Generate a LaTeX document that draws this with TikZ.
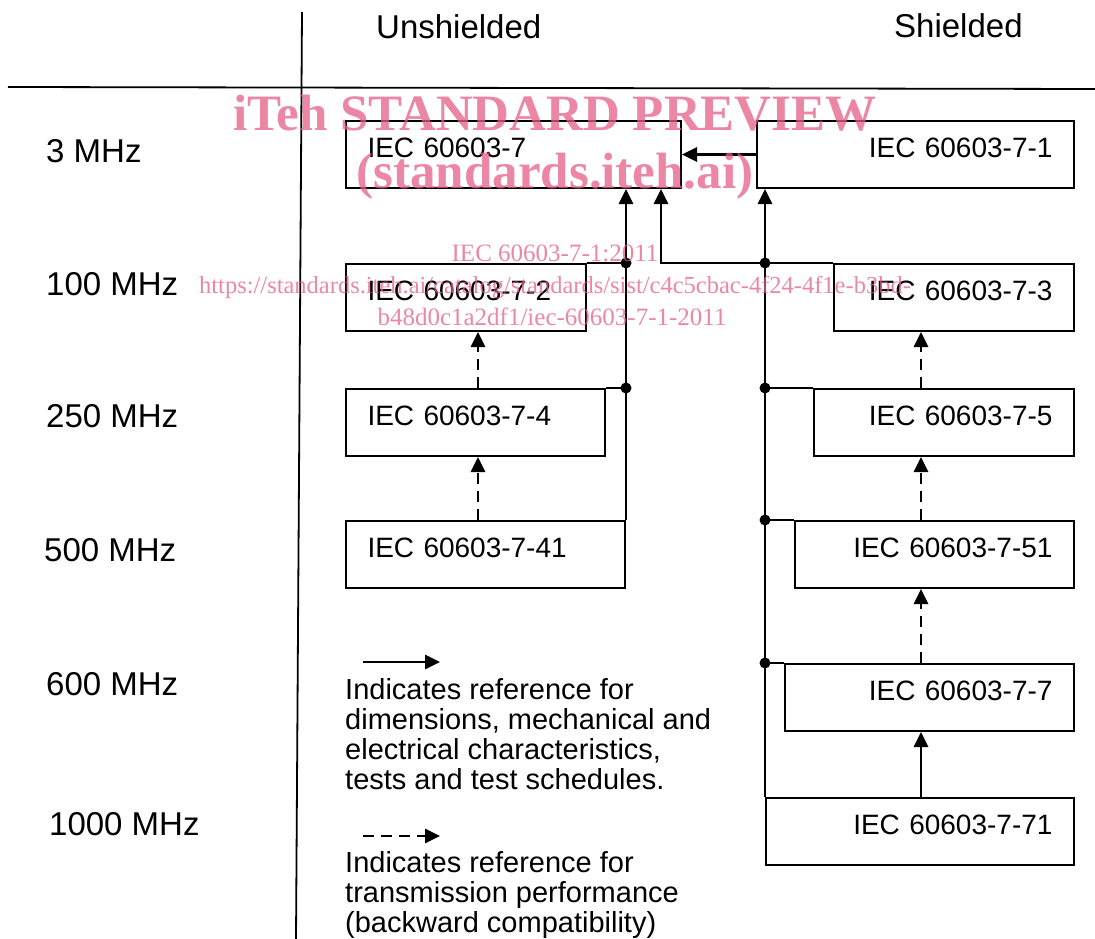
\documentclass[tikz,border=0pt]{standalone}
\usepackage{fontspec}
\setmainfont{Liberation Sans}
\newfontfamily\wmfont{Liberation Serif}
\usetikzlibrary{arrows.meta}
\definecolor{wmPink}{RGB}{230,94,135}

\begin{document}
\begin{tikzpicture}[
    x=1pt, y=-1pt,
    freqLabel/.style={font=\fontsize{33}{40}\selectfont, anchor=base west, inner sep=0pt},
    colHead/.style={font=\fontsize{33}{40}\selectfont, anchor=base west, inner sep=0pt},
    iecBox/.style={draw, line width=2pt, font=\fontsize{28}{34}\selectfont,
        inner xsep=21.5pt, inner ysep=0pt, minimum height=67pt,
        text height=20pt, text depth=14pt},
    leftBox/.style={iecBox, anchor=north west, align=left, text width=#1},
    rightBox/.style={iecBox, anchor=north east, align=right, text width=#1},
    refArrow/.style={line width=2.8pt, -{Triangle[length=15pt,width=14pt]}},
    perfArrow/.style={line width=2.8pt, dash pattern=on 11pt off 7pt, -{Triangle[length=15pt,width=14pt]}},
    branch/.style={line width=2.2pt},
    legendText/.style={font=\fontsize{29}{30}\selectfont, align=left, anchor=north west, inner sep=0pt},
    watermark/.style={text=wmPink, opacity=0.75, inner sep=0pt, anchor=base},
]
\useasboundingbox (0,0) rectangle (1095,939);

% table rules
\draw[line width=1.8pt] (302,12) -- (296,939);
\draw[line width=1.8pt] (8,87) -- (1095,89);

% column heads
\node[colHead] (hUnsh) at (376,39) {Unshielded};
\node[colHead] (hSh) at (894,38) {Shielded};

% frequency rows
\node[freqLabel] (f3) at (46,162) {3 MHz};
\node[freqLabel] (f100) at (46,295) {100 MHz};
\node[freqLabel] (f250) at (46,427) {250 MHz};
\node[freqLabel] (f500) at (44,561) {500 MHz};
\node[freqLabel] (f600) at (46,695) {600 MHz};
\node[freqLabel] (f1000) at (49,835) {1000 MHz};

% unshielded family
\node[leftBox=292pt] (iec7) at (345,120) {IEC 60603-7};
\node[leftBox=197pt] (iec72) at (345,263) {IEC 60603-7-2};
\node[leftBox=216pt] (iec74) at (345,388) {IEC 60603-7-4};
\node[leftBox=236pt] (iec741) at (345,520) {IEC 60603-7-41};

% shielded family
\node[rightBox=274pt] (iec71) at (1075,120) {IEC 60603-7-1};
\node[rightBox=197pt] (iec73) at (1075,263) {IEC 60603-7-3};
\node[rightBox=217pt] (iec75) at (1075,388) {IEC 60603-7-5};
\node[rightBox=236pt] (iec751) at (1075,520) {IEC 60603-7-51};
\node[rightBox=246pt] (iec77) at (1075,663) {IEC 60603-7-7};
\node[rightBox=265pt] (iec771) at (1075,797) {IEC 60603-7-71};

% reference lines, unshielded
\coordinate (jL2) at (iec741.north east |- iec72.north);
\coordinate (jL4) at (iec741.north east |- iec74.north);
\draw[refArrow] (iec741.north east) -- (iec741.north east |- iec7.south);
\draw[branch] (iec72.north east) -- (jL2);
\draw[branch] (iec74.north east) -- (jL4);
\fill (jL2) circle (5.5pt);
\fill (jL4) circle (5.5pt);

% reference lines, shielded
\coordinate (jR3) at (iec771.north west |- iec73.north);
\coordinate (jR5) at (iec771.north west |- iec75.north);
\coordinate (jR51) at (iec771.north west |- iec751.north);
\coordinate (jR7) at (iec771.north west |- iec77.north);
\coordinate (kink) at (661,263);
\draw[refArrow] (iec771.north west) -- (iec771.north west |- iec71.south);
\draw[refArrow] (iec73.north west) -- (kink) -- (kink |- iec7.south);
\draw[branch] (jR5) -- (iec75.north west);
\draw[branch] (jR51) -- (iec751.north west);
\draw[branch] (jR7) -- (iec77.north west);
\foreach \j in {jR3,jR5,jR51,jR7} \fill (\j) circle (5.5pt);
\draw[refArrow] (iec71.west) -- (iec7.east);

% transmission performance
\draw[perfArrow] ([xshift=133pt]iec74.north west) -- ([xshift=133pt]iec72.south west);
\draw[perfArrow] ([xshift=133pt]iec741.north west) -- ([xshift=133pt]iec74.south west);
\draw[perfArrow] ([xshift=-154pt]iec75.north east) -- ([xshift=-154pt]iec73.south east);
\draw[perfArrow] ([xshift=-154pt]iec751.north east) -- ([xshift=-154pt]iec75.south east);
\draw[perfArrow] ([xshift=-154pt]iec77.north east) -- ([xshift=-154pt]iec751.south east);
\draw[refArrow] ([xshift=-154pt]iec771.north east) -- ([xshift=-154pt]iec77.south east);

% legend
\coordinate (solidA) at (363,662);
\coordinate (solidB) at (440,662);
\coordinate (dashA) at (363,836);
\coordinate (dashB) at (440,836);
\draw[refArrow] (solidA) -- (solidB);
\draw[perfArrow] (dashA) -- (dashB);
\node[legendText] (legSolid) at (345,678) {Indicates reference for\\dimensions, mechanical and\\electrical characteristics,\\tests and test schedules.};
\node[legendText] (legDash) at (345,851) {Indicates reference for\\transmission performance\\(backward compatibility)};

% watermark
\node[watermark, font=\wmfont\bfseries\fontsize{51}{60}\selectfont] (wmTitle) at (555,131) {iTeh STANDARD PREVIEW};
\node[watermark, font=\wmfont\bfseries\fontsize{51}{60}\selectfont] (wmSite) at (555,188) {(standards.iteh.ai)};
\node[watermark, font=\wmfont\fontsize{25}{30}\selectfont] (wmCode) at (555,261) {IEC 60603-7-1:2011};
\node[watermark, font=\wmfont\fontsize{24.5}{30}\selectfont] (wmUrl) at (555,293) {https://standards.iteh.ai/catalog/standards/sist/c4c5cbac-4f24-4f1e-b3bd-};
\node[watermark, font=\wmfont\fontsize{25}{30}\selectfont] (wmUrl2) at (552,325) {b48d0c1a2df1/iec-60603-7-1-2011};
\end{tikzpicture}
\end{document}
